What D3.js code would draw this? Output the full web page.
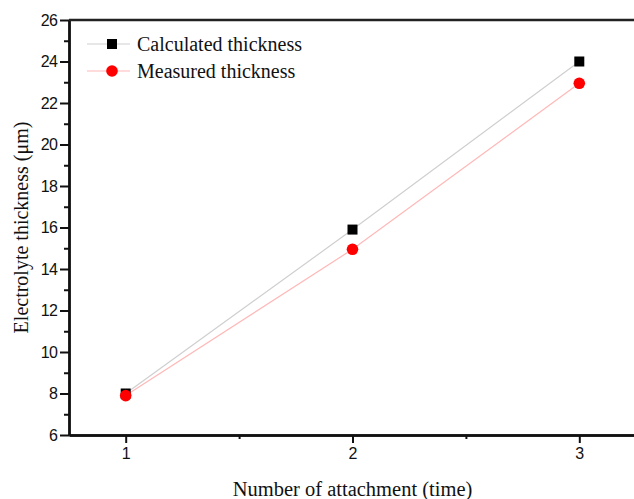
<!DOCTYPE html>
<html>
<head>
<meta charset="utf-8">
<script src="https://d3js.org/d3.v7.min.js"></script>
<style>
  body { margin: 0; background: #fff; }
</style>
</head>
<body>
<div id="chart"></div>
<script>
// data
const attachments = [1, 2, 3];
const calculated = [8, 15.9, 24];
const measured = [7.9, 14.95, 22.95];
const yTicks = [6, 8, 10, 12, 14, 16, 18, 20, 22, 24, 26];
const xTicks = [1, 2, 3];

const W = 634, H = 499;
const margin = { top: 20, right: -2, bottom: 64, left: 69 };
const width = W - margin.left - margin.right,
      height = H - margin.top - margin.bottom;

const svg = d3.select("#chart").append("svg")
  .attr("width", W).attr("height", H);
const g = svg.append("g")
  .attr("transform", `translate(${margin.left},${margin.top})`);

const x = d3.scaleLinear().domain([0.75, 3.25]).range([0, width]);
const y = d3.scaleLinear().domain([6, 26]).range([height, 0]);

// lines
const line = d3.line().x(d => x(d[0])).y(d => y(d[1]));
const calcPts = attachments.map((a, i) => [a, calculated[i]]);
const measPts = attachments.map((a, i) => [a, measured[i]]);

g.append("path").datum(calcPts)
  .attr("d", line).attr("fill", "none")
  .attr("stroke", "#cfcfcf").attr("stroke-width", 1.2);
g.append("path").datum(measPts)
  .attr("d", line).attr("fill", "none")
  .attr("stroke", "#ffb8b8").attr("stroke-width", 1.2);

// markers
g.selectAll("rect.calc").data(calcPts).enter().append("rect")
  .attr("class", "calc")
  .attr("x", d => x(d[0]) - 5).attr("y", d => y(d[1]) - 5)
  .attr("width", 10).attr("height", 10).attr("fill", "#000");
g.selectAll("circle.meas").data(measPts).enter().append("circle")
  .attr("class", "meas")
  .attr("cx", d => x(d[0])).attr("cy", d => y(d[1]))
  .attr("r", 5.8).attr("fill", "#ff0000");

// axes
const tickFont = "'Liberation Sans', Arial, sans-serif";
const yAxis = g.append("g")
  .call(d3.axisLeft(y).tickValues(yTicks).tickSize(9).tickPadding(3).tickSizeOuter(0));
const yMinor = g.append("g")
  .call(d3.axisLeft(y).tickValues(d3.range(7, 26, 2)).tickSize(5).tickFormat("").tickSizeOuter(0));
const xAxis = g.append("g").attr("transform", `translate(0,${height})`)
  .call(d3.axisBottom(x).tickValues(xTicks).tickFormat(d3.format("d"))
    .tickSize(8).tickPadding(5).tickSizeOuter(0));
const xMinor = g.append("g").attr("transform", `translate(0,${height})`)
  .call(d3.axisBottom(x).tickValues([1.5, 2.5]).tickSize(4).tickFormat("").tickSizeOuter(0));

[yAxis, yMinor, xAxis, xMinor].forEach(a => {
  a.select(".domain").attr("stroke", "#111").attr("stroke-width", 2.4);
  a.selectAll(".tick line").attr("stroke", "#111").attr("stroke-width", 2);
  a.selectAll(".tick text").style("font-family", tickFont)
    .style("font-size", "16px").attr("fill", "#111");
});
yAxis.selectAll(".tick text").attr("dy", "0.34em").style("letter-spacing", "-0.8px");

// top border
g.append("line")
  .attr("x1", 0).attr("x2", width).attr("y1", 0).attr("y2", 0)
  .attr("stroke", "#222").attr("stroke-width", 2.4);

// axis titles
const serif = "'Liberation Serif', 'Times New Roman', serif";
svg.append("text")
  .attr("x", margin.left + width / 2).attr("y", 496)
  .attr("text-anchor", "middle")
  .style("font-family", serif).style("font-size", "20.5px").attr("fill", "#111")
  .text("Number of attachment (time)");
svg.append("text")
  .attr("transform", `translate(28,${margin.top + height / 2}) rotate(-90)`)
  .attr("text-anchor", "middle")
  .style("font-family", serif).style("font-size", "20px").attr("fill", "#111")
  .text("Electrolyte thickness (μm)");

// legend
const legendItems = [
  { name: "Calculated thickness", line: "#cfcfcf", shape: "square" },
  { name: "Measured thickness", line: "#ffb8b8", shape: "circle" }
];
const legend = svg.append("g").attr("transform", "translate(87,44)");
legendItems.forEach((d, i) => {
  const row = legend.append("g").attr("transform", `translate(0,${i * 27})`);
  row.append("line").attr("x1", 0).attr("x2", 43).attr("y1", 0).attr("y2", 0)
    .attr("stroke", d.line).attr("stroke-width", 1.2);
  if (d.shape === "square") {
    row.append("rect").attr("x", 20).attr("y", -5).attr("width", 10).attr("height", 10)
      .attr("fill", "#000");
  } else {
    row.append("circle").attr("cx", 25).attr("cy", 0).attr("r", 5.8).attr("fill", "#ff0000");
  }
  row.append("text").attr("x", 50).attr("y", 6.5)
    .style("font-family", serif).style("font-size", "20px").attr("fill", "#111")
    .text(d.name);
});
</script>
</body>
</html>
